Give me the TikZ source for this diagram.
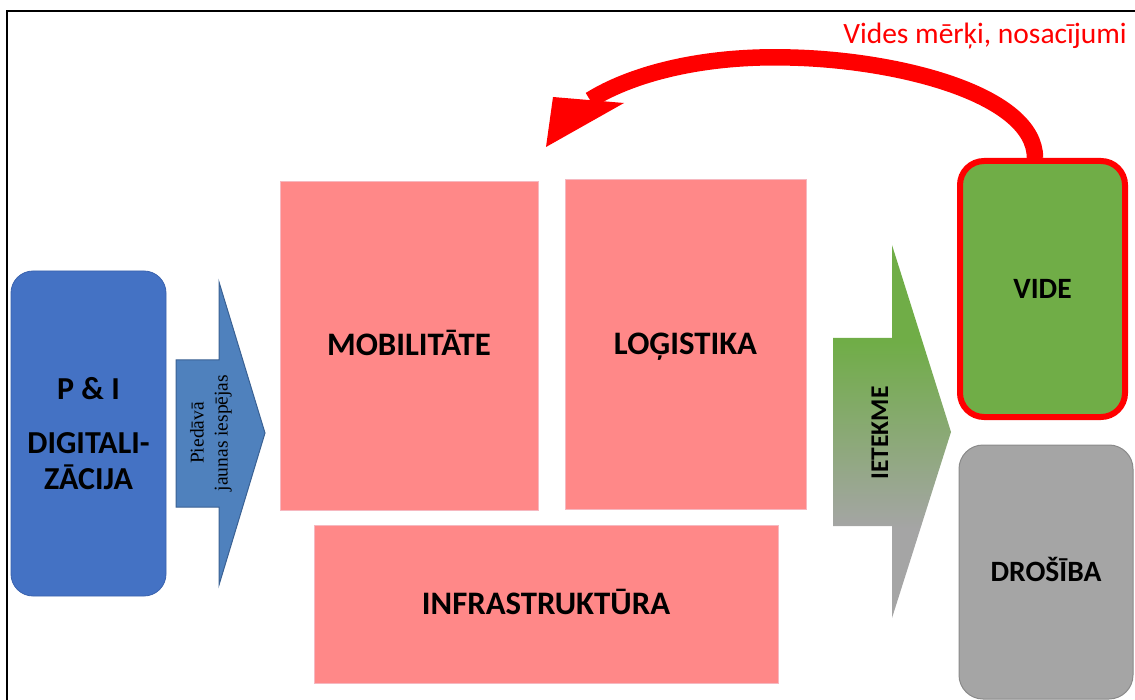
\documentclass[tikz,border=0pt]{standalone}
\usepackage{fontspec}
\setmainfont{Carlito}
\newfontfamily\notefont{Liberation Serif}
\usetikzlibrary{calc}

\definecolor{boxpink}{HTML}{FF8888}
\definecolor{pinkedge}{HTML}{F6B8C0}
\definecolor{piblue}{HTML}{4472C4}
\definecolor{piedge}{HTML}{3A62AE}
\definecolor{arrowblue}{HTML}{4F81BD}
\definecolor{arrowedge}{HTML}{3A6193}
\definecolor{envgreen}{HTML}{70AD47}
\definecolor{safegrey}{HTML}{A5A5A5}
\definecolor{safeedge}{HTML}{8A8A8A}

% green at the top of the impact arrow, grey at the bottom
\pgfdeclareverticalshading{impactshade}{100bp}{%
  color(0bp)=(safegrey); color(25bp)=(safegrey); color(37bp)=(safegrey);
  color(62bp)=(envgreen); color(75bp)=(envgreen); color(100bp)=(envgreen)}

\tikzset{
  % single-line labels are centred on their capitals (argument: cap height)
  capcentre/.style={text height=#1, text depth=0pt},
  label/.style={font=\fontsize{32.8}{38}\selectfont\bfseries, text=black, capcentre=21pt},
  pinkbox/.style={rectangle, fill=boxpink, draw=pinkedge, line width=0.8pt,
    inner sep=0pt, label},
  sidebox/.style={rectangle, rounded corners=24pt, inner sep=0pt, capcentre=19pt,
    font=\fontsize{29.5}{35}\selectfont\bfseries},
}

\begin{document}
\begin{tikzpicture}[x=1pt, y=-1pt]
\useasboundingbox (0,0) rectangle (1135,700);
\clip (0,0) rectangle (1135,700);

% outer frame
\draw[line width=2pt] (7,11) rectangle (1150,720);

% digitalisation block
\node[rectangle, rounded corners=22pt, fill=piblue, draw=piedge, line width=0.8pt,
  minimum width=155pt, minimum height=325pt, inner sep=0pt, align=center,
  font=\fontsize{32}{36}\selectfont\bfseries]
  (pi) at (88.5,433.5) {P \& I\\[18pt]DIGITALI-\\ZĀCIJA};

% block arrow: offers new possibilities
\draw[fill=arrowblue, draw=arrowedge, line width=1pt]
  (176,360) -- (219,360) -- (219,282) -- (265,433) -- (219,585)
  -- (219,507) -- (176,507) -- cycle;
\node[rotate=90, align=center, inner sep=0pt,
  font=\notefont\fontsize{19.5}{24}\selectfont]
  (offer) at (211,433) {Piedāvā\\jaunas iespējas};

% transport domains
\node[pinkbox, minimum width=258pt, minimum height=329pt] (mob) at (409,345.5) {MOBILITĀTE};
\node[pinkbox, minimum width=241pt, minimum height=330pt] (log) at (685.5,344) {LOĢISTIKA};
\node[pinkbox, minimum width=464pt, minimum height=158pt] (inf) at (546,604) {INFRASTRUKTŪRA};

% block arrow: impact
\shade[shading=impactshade]
  (833,338) -- (892,338) -- (892,245) -- (951,432) -- (892,618)
  -- (892,526) -- (833,526) -- cycle;
\node[rotate=90, inner sep=0pt, capcentre=16.4pt, font=\fontsize{25.5}{30}\selectfont\bfseries]
  (impact) at (880,433) {IETEKME};

% environment and safety
\node[sidebox, fill=envgreen, draw=red, line width=6pt,
  minimum width=165pt, minimum height=256pt] (vide) at (1042.5,289) {VIDE};
\node[sidebox, fill=safegrey, draw=safeedge, line width=1pt,
  minimum width=174pt, minimum height=254pt] (safe) at (1046,572) {DROŠĪBA};

% feedback arrow from the environment box
\coordinate (headbase) at (590,100);
\coordinate (tip) at (546,147);
\draw[red, line width=16.5pt]
  ([xshift=-7.5pt]vide.north) .. controls (1035,95) and (900,60) .. (790,57.5)
  .. controls (700,55) and (630,75) .. (headbase);
\fill[red] (553,97) -- (624,103) -- (tip) -- cycle;

\node[anchor=base east, inner sep=0pt, text=red,
  font=\fontsize{29.5}{35}\selectfont] (goals) at (1127,44) {Vides mērķi, nosacījumi};
\end{tikzpicture}
\end{document}
